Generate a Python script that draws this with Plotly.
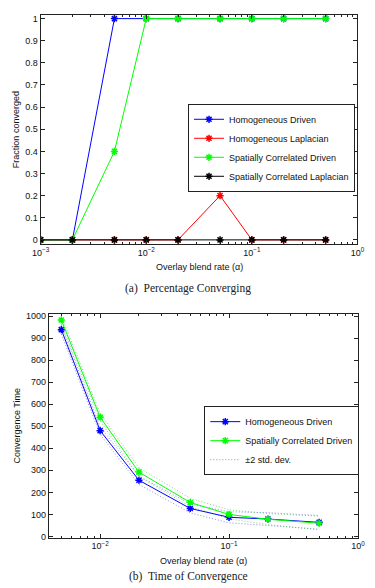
import plotly.graph_objects as go

# ---------------- data: (a) Percentage Converging ----------------
alpha_a = [0.001, 0.002, 0.005, 0.01, 0.02, 0.05, 0.1, 0.2, 0.5]
homog_driven_a = [0, 0, 1, 1, 1, 1, 1, 1, 1]
homog_lap_a = [0, 0, 0, 0, 0, 0.2, 0, 0, 0]
spat_driven_a = [0, 0, 0.4, 1, 1, 1, 1, 1, 1]
spat_lap_a = [0, 0, 0, 0, 0, 0, 0, 0, 0]

# ---------------- data: (b) Time of Convergence ----------------
alpha_b = [0.005, 0.01, 0.02, 0.05, 0.1, 0.2, 0.5]
homog_time = [938, 480, 255, 127, 87, 79, 64]
homog_upper = [958, 497, 274, 147, 112, 108, 95]
homog_lower = [918, 463, 236, 107, 62, 50, 33]
spat_time = [982, 541, 292, 154, 100, 78, 60]
spat_upper = [1000, 558, 312, 173, 121, 104, 92]
spat_lower = [964, 524, 272, 135, 80, 54, 30]

y_ticks_a = [0, 0.1, 0.2, 0.3, 0.4, 0.5, 0.6, 0.7, 0.8, 0.9, 1]
y_ticks_b = [0, 100, 200, 300, 400, 500, 600, 700, 800, 900, 1000]
x_ticks = [0.001, 0.01, 0.1, 1]
x_tick_text = ["10<sup>−3</sup>", "10<sup>−2</sup>", "10<sup>−1</sup>", "10<sup>0</sup>"]
x_minor_ticks = [m * d for d in [0.001, 0.01, 0.1] for m in range(2, 10)]

BLUE = "rgb(0,0,255)"
RED = "rgb(255,0,0)"
GREEN = "rgb(0,255,0)"
BLACK = "rgb(0,0,0)"
STD_BLUE = "rgba(80,80,220,0.65)"
STD_GREEN = "rgba(40,190,40,0.6)"

FONT = "Liberation Sans, Arial, sans-serif"
SERIF = "Liberation Serif, Times New Roman, serif"

fig = go.Figure()


def add_series(x, y, color, name, xa, ya, legend):
    fig.add_trace(go.Scatter(
        x=x, y=y, mode="lines+markers", name=name,
        line=dict(color=color, width=1),
        marker=dict(symbol="asterisk-open", size=6, color=color,
                    line=dict(color=color, width=1.5)),
        xaxis=xa, yaxis=ya, legend=legend))


add_series(alpha_a, homog_driven_a, BLUE, "Homogeneous Driven", "x", "y", "legend")
add_series(alpha_a, homog_lap_a, RED, "Homogeneous Laplacian", "x", "y", "legend")
add_series(alpha_a, spat_driven_a, GREEN, "Spatially Correlated Driven", "x", "y", "legend")
add_series(alpha_a, spat_lap_a, BLACK, "Spatially Correlated Laplacian", "x", "y", "legend")

DOT = "1px,2px"
for yy, col in [(homog_upper, STD_BLUE), (homog_lower, STD_BLUE),
                (spat_upper, STD_GREEN), (spat_lower, STD_GREEN)]:
    fig.add_trace(go.Scatter(
        x=alpha_b, y=yy, mode="lines", name="±2 std. dev.",
        line=dict(color=col, width=1, dash=DOT),
        xaxis="x2", yaxis="y2", legend="legend2",
        legendgroup="std", showlegend=False))

add_series(alpha_b, homog_time, BLUE, "Homogeneous Driven", "x2", "y2", "legend2")
add_series(alpha_b, spat_time, GREEN, "Spatially Correlated Driven", "x2", "y2", "legend2")
fig.add_trace(go.Scatter(
    x=[None], y=[None], mode="lines", name="±2 std. dev.",
    line=dict(color=STD_BLUE, width=1, dash=DOT),
    xaxis="x2", yaxis="y2", legend="legend2", legendgroup="std"))

W, H = 375, 588


def px_x(p):
    return p / W


def px_y(p):
    return 1 - p / H


axis_common = dict(
    showline=True, linecolor="#222", linewidth=1, mirror="ticks",
    ticks="inside", ticklen=4, tickcolor="#222", showgrid=False, zeroline=False,
    tickfont=dict(family=FONT, size=9, color="#111"),
)

xaxis_log = dict(
    type="log", tickmode="array", tickvals=x_ticks, ticktext=x_tick_text,
    minor=dict(ticks="inside", ticklen=2, tickcolor="#222", tickmode="array",
               tickvals=x_minor_ticks, showgrid=False),
)


def ann(text, x, y, size=9, family=FONT, angle=0, color="#111"):
    return dict(text=text, x=px_x(x), y=px_y(y), xref="paper", yref="paper",
                xanchor="center", yanchor="middle", showarrow=False, textangle=angle,
                font=dict(family=family, size=size, color=color))


legend_style = dict(xanchor="left", yanchor="top", bgcolor="white",
                    bordercolor="#222", borderwidth=1,
                    font=dict(family=FONT, size=9, color="#111"),
                    itemwidth=30, tracegroupgap=0)

fig.update_layout(
    width=W, height=H, autosize=False,
    margin=dict(l=0, r=0, t=0, b=0),
    paper_bgcolor="white", plot_bgcolor="white",
    showlegend=True,
    xaxis=dict(**axis_common, **xaxis_log, domain=[px_x(33), px_x(364)],
               range=[-3, 0], anchor="y"),
    yaxis=dict(**axis_common, domain=[px_y(244), px_y(12)],
               range=[-0.019, 1.017], tickvals=y_ticks_a, anchor="x"),
    xaxis2=dict(**axis_common, **xaxis_log, domain=[px_x(41.6), px_x(364.5)],
                range=[-2.398, 0], anchor="y2"),
    yaxis2=dict(**axis_common, domain=[px_y(541), px_y(315)],
                range=[-5, 1008], tickvals=y_ticks_b, tickformat="d", anchor="x2"),
    legend=dict(x=px_x(187), y=px_y(102), **legend_style),
    legend2=dict(x=px_x(204), y=px_y(408), **legend_style),
    annotations=[
        ann("Overlay blend rate (α)", 198.5, 267),
        ann("Fraction converged", 8, 128, angle=-90),
        ann("(a)  Percentage Converging", 187, 289, size=11.5, family=SERIF, color="#222"),
        ann("Overlay blend rate (α)", 203, 565),
        ann("Convergence Time", 8, 428, angle=-90),
        ann("(b)  Time of Convergence", 187, 580, size=11.5, family=SERIF, color="#222"),
    ],
)

fig.write_html("out.html")
